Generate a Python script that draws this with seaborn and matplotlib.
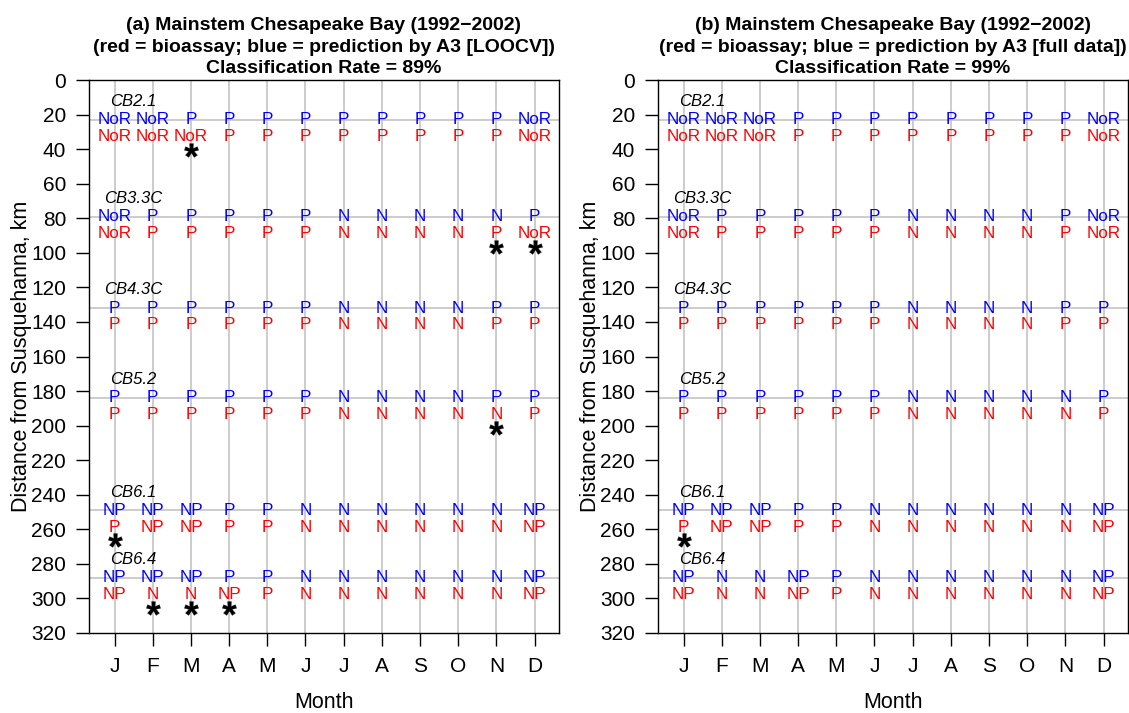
import numpy as np
import pandas as pd
import matplotlib
matplotlib.use("Agg")
import matplotlib.pyplot as plt
import seaborn as sns

# ---------------- data ----------------
months = ["J", "F", "M", "A", "M", "J", "J", "A", "S", "O", "N", "D"]
stations = ["CB2.1", "CB3.3C", "CB4.3C", "CB5.2", "CB6.1", "CB6.4"]
station_km = [23, 79, 132, 184, 249, 288]

# bioassay (red) - same in both panels
bioassay = {
    "CB2.1":  ["NoR", "NoR", "NoR", "P", "P", "P", "P", "P", "P", "P", "P", "NoR"],
    "CB3.3C": ["NoR", "P", "P", "P", "P", "P", "N", "N", "N", "N", "P", "NoR"],
    "CB4.3C": ["P", "P", "P", "P", "P", "P", "N", "N", "N", "N", "P", "P"],
    "CB5.2":  ["P", "P", "P", "P", "P", "P", "N", "N", "N", "N", "N", "P"],
    "CB6.1":  ["P", "NP", "NP", "P", "P", "N", "N", "N", "N", "N", "N", "NP"],
    "CB6.4":  ["NP", "N", "N", "NP", "P", "N", "N", "N", "N", "N", "N", "NP"],
}
# prediction by A3, LOOCV (blue, panel a)
pred_loocv = {
    "CB2.1":  ["NoR", "NoR", "P", "P", "P", "P", "P", "P", "P", "P", "P", "NoR"],
    "CB3.3C": ["NoR", "P", "P", "P", "P", "P", "N", "N", "N", "N", "N", "P"],
    "CB4.3C": ["P", "P", "P", "P", "P", "P", "N", "N", "N", "N", "P", "P"],
    "CB5.2":  ["P", "P", "P", "P", "P", "P", "N", "N", "N", "N", "P", "P"],
    "CB6.1":  ["NP", "NP", "NP", "P", "P", "N", "N", "N", "N", "N", "N", "NP"],
    "CB6.4":  ["NP", "NP", "NP", "P", "P", "N", "N", "N", "N", "N", "N", "NP"],
}
# prediction by A3, full data (blue, panel b)
pred_full = {
    "CB2.1":  ["NoR", "NoR", "NoR", "P", "P", "P", "P", "P", "P", "P", "P", "NoR"],
    "CB3.3C": ["NoR", "P", "P", "P", "P", "P", "N", "N", "N", "N", "P", "NoR"],
    "CB4.3C": ["P", "P", "P", "P", "P", "P", "N", "N", "N", "N", "P", "P"],
    "CB5.2":  ["P", "P", "P", "P", "P", "P", "N", "N", "N", "N", "N", "P"],
    "CB6.1":  ["NP", "NP", "NP", "P", "P", "N", "N", "N", "N", "N", "N", "NP"],
    "CB6.4":  ["NP", "N", "N", "NP", "P", "N", "N", "N", "N", "N", "N", "NP"],
}
titles = [
    "(a) Mainstem Chesapeake Bay (1992\u22122002)\n(red = bioassay; blue = prediction by A3 [LOOCV])\nClassification Rate = 89%",
    "(b) Mainstem Chesapeake Bay (1992\u22122002)\n(red = bioassay; blue = prediction by A3 [full data])\nClassification Rate = 99%",
]
yticks = list(range(0, 321, 20))

# ---------------- style ----------------
sns.set_theme(style="white")
plt.rcParams["font.family"] = ["Liberation Sans", "DejaVu Sans"]
plt.rcParams["mathtext.fontset"] = "custom"
plt.rcParams["mathtext.rm"] = "Liberation Sans"
plt.rcParams["mathtext.bf"] = "Liberation Sans:bold"
for key in ["text.color", "axes.labelcolor", "xtick.color", "ytick.color", "axes.edgecolor"]:
    plt.rcParams[key] = "black"

W, H = 1129, 713
fig = plt.figure(figsize=(W / 100, H / 100), dpi=100)
ax_pos = [
    [89 / W, 1 - 633 / H, (559 - 89) / W, (633 - 80) / H],
    [658 / W, 1 - 633 / H, (1128 - 658) / W, (633 - 80) / H],
]

x = np.arange(1, 13)
RED_OFF = 9.7
STAR_OFF = 17.4
LAB_OFF = -10.5
grid_col = "#c4c4c4"

for k, (pred, title) in enumerate(zip([pred_loocv, pred_full], titles)):
    ax = fig.add_axes(ax_pos[k])
    ax.set_xlim(0.33, 12.64)
    ax.set_ylim(320, 0)
    for xi in x:
        ax.axvline(xi, color=grid_col, lw=1.2, zorder=0)
    for d in station_km:
        ax.axhline(d, color=grid_col, lw=1.2, zorder=0)

    rows = []
    for st, d in zip(stations, station_km):
        ax.text(1.5, d + LAB_OFF, st, ha="center", va="center", fontsize=12,
                style="italic", color="black")
        for xi, p, o in zip(x, pred[st], bioassay[st]):
            ax.text(xi, d, p, ha="center", va="center", fontsize=12.3, color="#0000ff", zorder=3)
            ax.text(xi, d + RED_OFF, o, ha="center", va="center", fontsize=12.3, color="#ff0000", zorder=3)
            if p != o:
                rows.append({"month": xi, "km": d + STAR_OFF})
    df = pd.DataFrame(rows, columns=["month", "km"])
    if len(df):
        sns.scatterplot(data=df, x="month", y="km", marker=r"$\mathbf{*}$", s=105,
                        color="black", edgecolor="black", linewidth=0.2, ax=ax, zorder=4)

    ax.set_xticks(x)
    ax.set_xticklabels(months)
    ax.set_yticks(yticks)
    ax.tick_params(axis="both", which="both", direction="out", length=9.5, width=1,
                   color="black", labelcolor="black", labelsize=15, left=True, bottom=True)
    ax.tick_params(axis="y", pad=7)
    ax.tick_params(axis="x", pad=8)
    for s in ax.spines.values():
        s.set_visible(True)
        s.set_color("black")
        s.set_linewidth(1.0)
    ax.set_xlabel("Month", fontsize=15.5, labelpad=11)
    ax.set_ylabel("Distance from Susquehanna, km", fontsize=15.5, labelpad=-1)
    ax.set_title(title, fontsize=14.0, fontweight="bold", linespacing=1.34, pad=5, color="black")
    ax.grid(False)

fig.savefig("out.png", dpi=100)
